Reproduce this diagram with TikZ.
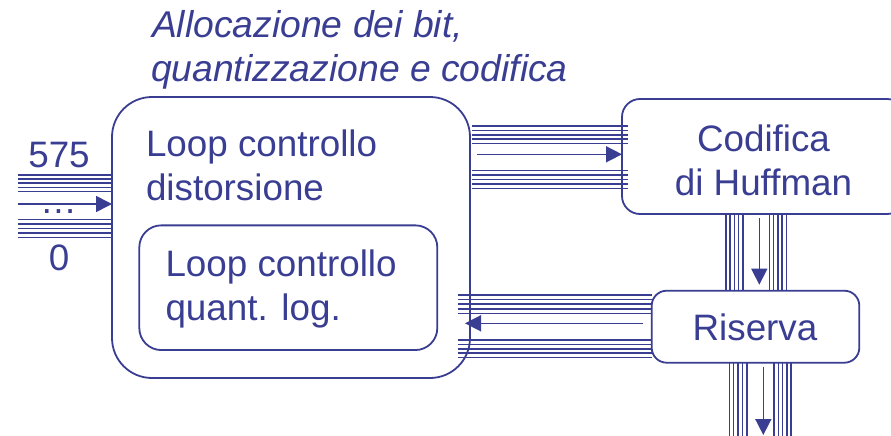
\documentclass[tikz,border=0pt]{standalone}
\usepackage{fontspec}
\setmainfont{Liberation Sans}
\usetikzlibrary{arrows.meta,calc}
\definecolor{navy}{RGB}{58,62,146}
\begin{document}
\begin{tikzpicture}[x=1pt,y=-1pt,
  box/.style={draw=navy,line width=1.8pt,fill=white,inner sep=0pt,outer sep=0pt},
  lbl/.style={text=navy,font=\fontsize{36.8}{43.3}\selectfont,inner sep=0pt,outer sep=0pt},
  ital/.style={text=navy,font=\fontsize{37.3}{44.4}\selectfont\itshape,inner sep=0pt,outer sep=0pt},
  bus/.style={draw=navy,line width=1.5pt},
  flow/.style={draw=navy,line width=1.6pt,-{Triangle[length=16pt,width=16pt]}}]
\useasboundingbox (0,0) rectangle (891,436);
\clip (0,0) rectangle (891,436);
\fill[white] (0,0) rectangle (891,436);
% boxes
\node[box,rounded corners=40pt,minimum width=358pt,minimum height=281pt] (big) at (291,237.5) {};
\node[box,rounded corners=22pt,minimum width=298pt,minimum height=124.7pt] (inner) at (288.3,287.7) {};
\node[box,rounded corners=18pt,minimum width=283pt,minimum height=115pt] (cod) at (763.5,156.5) {};
\node[box,rounded corners=15pt,minimum width=207.6pt,minimum height=72pt] (ris) at (755.5,326.7) {};
% texts
\node[ital,anchor=base west] (t1) at (152,37.3) {Allocazione dei bit,};
\node[ital,anchor=base west] (t2) at (151,81.7) {quantizzazione e codifica};
\node[lbl,anchor=base west] (b1) at (146,156.7) {Loop controllo};
\node[lbl,anchor=base west] (b2) at (146,200) {distorsione};
\node[lbl,anchor=base west] (i1) at (165.5,276.7) {Loop controllo};
\node[lbl,anchor=base west] (i2) at (165.5,320) {quant. log.};
\node[lbl,anchor=base] (c1) at (763.5,151.7) {Codifica};
\node[lbl,anchor=base] (c2) at (763.5,195) {di Huffman};
\node[lbl,anchor=base] (r1) at (755,340) {Riserva};
\node[lbl,anchor=base] (n575) at (59,167) {575};
\node[lbl,anchor=base] (n0) at (59,270.7) {0};
\node[lbl,anchor=base] (dots) at (58.5,213) {…};
% input bus
\coordinate (inL) at (18,204);
\foreach \y in {175,179.1,183.2,187.3,191.4,219.3,223.8,228.3,232.8,237.3}
  \draw[bus] (inL |- 0,\y) -- (big.west |- 0,\y);
\draw[flow] (inL) -- (big.west |- inL);
% big -> codifica
\foreach \y in {126,130.4,134.8,139.2,143.6,170.7,175.2,179.7,184.2,188.7}
  \draw[bus] ($(big.east |- 0,\y)+(2,0)$) -- ($(cod.west |- 0,\y)+(6,0)$);
\draw[flow] ($(big.east |- 0,154.3)+(7,0)$) -- (cod.west |- 0,154.3);
% riserva -> big
\foreach \y in {295,299.6,304.2,308.8,313.4,340,344.4,348.8,353.2,357.6}
  \draw[bus] ($(big.east |- 0,\y)+(-12,0)$) -- (ris.west |- 0,\y);
\draw[flow] ($(ris.west |- 0,323.3)+(-9,0)$) -- ($(big.east |- 0,323.3)+(-5,0)$);
% codifica -> riserva
\foreach \x in {726,730.2,734.4,738.6,742.8,769.3,773.6,777.9,782.2,786.5}
  \draw[bus] (cod.south -| \x,0) -- (ris.north -| \x,0);
\draw[flow] ($(cod.south -| 759.3,0)+(0,4)$) -- ($(ris.north -| 759.3,0)+(0,-6)$);
% riserva -> out
\coordinate (outB) at (763.3,436);
\foreach \x in {729.3,733.7,738.1,742.5,746.9,774,778.3,782.6,786.9,791.2}
  \draw[bus] (ris.south -| \x,0) -- (outB -| \x,0);
\draw[flow] ($(ris.south -| outB)+(0,4)$) -- ($(outB)+(0,-1)$);
\end{tikzpicture}
\end{document}
